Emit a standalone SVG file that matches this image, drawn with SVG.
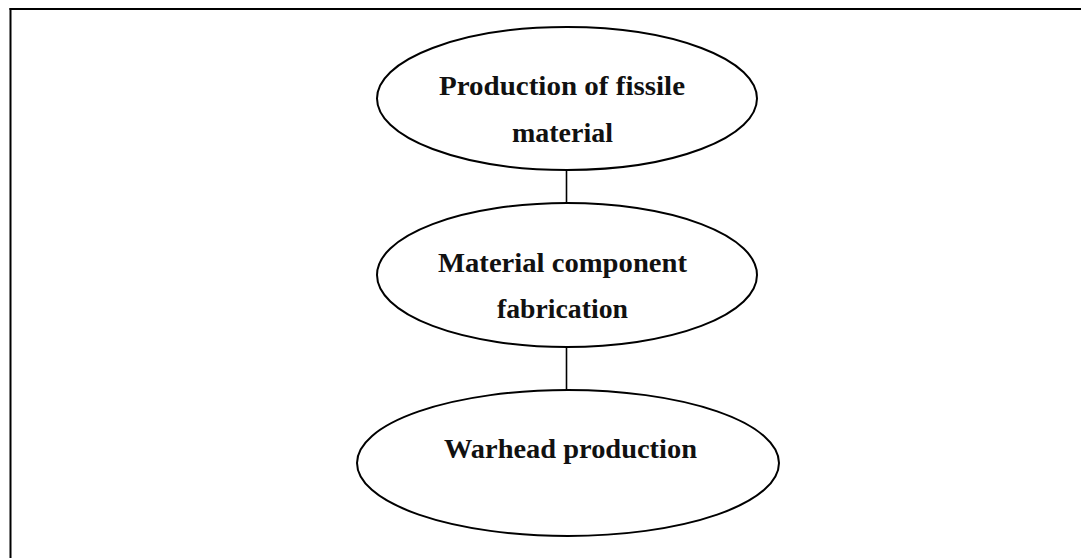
<svg xmlns="http://www.w3.org/2000/svg" width="1090" height="558" viewBox="0 0 1090 558">
<style>
.node ellipse{fill:#fff;stroke:#000;stroke-width:2}
.node text{font-family:"Liberation Serif","Times New Roman",serif;font-weight:bold;font-size:27px;fill:#111;text-anchor:middle}
.conn line{stroke:#000;stroke-width:1.6}
.frame{stroke:#000;stroke-width:2;fill:none}
</style>
<rect width="1090" height="558" fill="#fff"/>
<g id="frame">
<line class="frame" x1="9.5" y1="9" x2="1081" y2="9"/>
<line class="frame" x1="10.5" y1="8" x2="10.5" y2="558" stroke="#222"/>
</g>
<g class="conn" id="connectors">
<line x1="566.5" y1="170" x2="566.5" y2="203"/>
<line x1="566.5" y1="347" x2="566.5" y2="390"/>
</g>
<g class="node" id="node-fissile">
<ellipse cx="567" cy="98.5" rx="190" ry="71.5"/>
<text x="562" y="95" textLength="246" lengthAdjust="spacingAndGlyphs">Production of fissile</text>
<text x="562.5" y="142" textLength="101" lengthAdjust="spacingAndGlyphs">material</text>
</g>
<g class="node" id="node-component">
<ellipse cx="567" cy="275" rx="190" ry="72"/>
<text x="562.5" y="272" textLength="249" lengthAdjust="spacingAndGlyphs">Material component</text>
<text x="562.5" y="318" textLength="131" lengthAdjust="spacingAndGlyphs">fabrication</text>
</g>
<g class="node" id="node-warhead">
<ellipse cx="568" cy="463" rx="211" ry="73"/>
<text x="570.5" y="458" textLength="253" lengthAdjust="spacingAndGlyphs">Warhead production</text>
</g>
</svg>
